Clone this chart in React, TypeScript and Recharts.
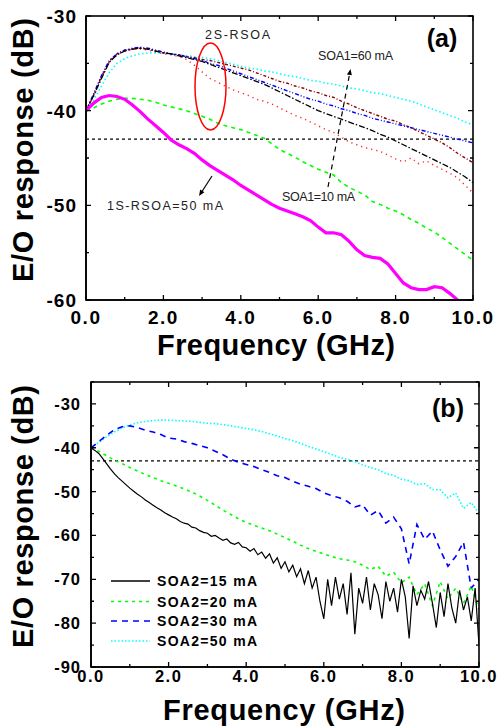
import { LineChart, Line, XAxis, YAxis, ReferenceLine } from 'recharts'

// frequency grids (GHz)
const freqA = Array.from({ length: 51 }, (_, i) => Math.round(i * 2) / 10)
const freqB = Array.from({ length: 51 }, (_, i) => Math.round(i * 2) / 10)
const freqFine = Array.from({ length: 101 }, (_, i) => i / 10)

const xTicks = [0, 1, 2, 3, 4, 5, 6, 7, 8, 9, 10]
const yTicksA = [-60, -55, -50, -45, -40, -35, -30]
const yTicksB = [-90, -85, -80, -75, -70, -65, -60, -55, -50, -45, -40, -35, -30, -25]

// panel (a): 1S-RSOA and 2S-RSOA responses (dB)
const magentaA = [
  -40, -39.2, -38.6, -38.4, -38.5, -38.8, -39.4, -40.1, -40.9, -41.6,
  -42.3, -43.1, -43.6, -44.0, -44.5, -45.2, -45.8, -46.3, -46.8, -47.3,
  -47.9, -48.4, -48.9, -49.4, -49.9, -50.3, -50.6, -50.9, -51.2, -51.6,
  -52.3, -52.9, -52.9, -53.1, -53.8, -54.7, -55.3, -55.5, -55.6, -56.2,
  -57.2, -58.2, -58.7, -58.9, -58.9, -58.6, -58.7, -59.3, -60.0,
]
const greenA = [
  -40, -39.7, -39.3, -39.0, -38.8, -38.7, -38.7, -38.8, -38.9, -39.1,
  -39.4, -39.6, -39.8, -40.0, -40.3, -40.6, -40.9, -41.3, -41.6, -41.8,
  -42.0, -42.3, -42.6, -42.9, -43.5, -44.1, -44.5, -44.9, -45.4, -45.8,
  -46.2, -46.5, -46.8, -47.6, -48.1, -48.5, -48.9, -49.6, -49.9, -50.3,
  -50.6, -51.0, -51.5, -51.9, -52.4, -52.8, -53.4, -54.0, -54.6, -55.2, -55.8,
]
const blackA = [
  -40, -38.4, -36.6, -34.9, -34.1, -33.7, -33.5, -33.4, -33.5, -33.7,
  -33.9, -34.0, -34.2, -34.4, -34.6, -34.8, -35.1, -35.4, -35.7, -36.0,
  -36.3, -36.6, -36.9, -37.2, -37.6, -38.0, -38.4, -38.8, -39.2, -39.6,
  -40.0, -40.3, -40.6, -40.9, -41.2, -41.5, -41.8, -42.1, -42.5, -42.8,
  -43.2, -43.6, -44.0, -44.4, -44.8, -45.2, -45.6, -46.0, -46.5, -47.0, -47.6,
]
const blueA = [
  -40, -38.2, -36.3, -34.7, -34.0, -33.6, -33.4, -33.3, -33.4, -33.6,
  -33.8, -34.0, -34.1, -34.3, -34.5, -34.7, -35.0, -35.2, -35.5, -35.8,
  -36.1, -36.4, -36.7, -37.0, -37.3, -37.6, -37.9, -38.2, -38.5, -38.8,
  -39.0, -39.3, -39.5, -39.8, -40.0, -40.3, -40.5, -40.8, -41.0, -41.2,
  -41.4, -41.6, -41.8, -42.0, -42.2, -42.4, -42.6, -42.8, -43.0, -43.2, -43.4,
]
const darkRedA = [
  -40, -38.3, -36.4, -34.8, -34.0, -33.6, -33.5, -33.4, -33.5, -33.7,
  -33.9, -34.0, -34.1, -34.3, -34.4, -34.6, -34.7, -34.9, -35.1, -35.3,
  -35.5, -35.7, -36.0, -36.3, -36.6, -36.9, -37.1, -37.4, -37.6, -37.9,
  -38.1, -38.4, -38.6, -39.0, -39.3, -39.7, -40.0, -40.3, -40.6, -40.9,
  -41.1, -41.5, -41.8, -42.2, -42.6, -43.0, -43.4, -43.9, -44.5, -45.0, -45.5,
]
const redA = [
  -40, -38.5, -36.5, -34.9, -34.1, -33.7, -33.5, -33.5, -33.6, -33.8,
  -34.0, -34.1, -34.3, -34.6, -35.2, -35.9, -36.6, -37.0, -37.4, -37.8,
  -38.1, -38.4, -38.8, -39.0, -39.3, -39.7, -40.1, -40.5, -40.8, -41.2,
  -41.6, -42.0, -42.3, -42.8, -43.3, -43.6, -43.9, -44.1, -44.3, -44.7,
  -45.1, -45.4, -45.0, -45.6, -45.3, -45.8, -46.2, -46.6, -47.1, -47.9, -48.7,
]
const cyanA = [
  -40, -38.9, -37.4, -36.0, -35.0, -34.5, -34.2, -34.0, -33.9, -33.9,
  -33.9, -34.0, -34.1, -34.2, -34.3, -34.4, -34.5, -34.7, -34.9, -35.1,
  -35.3, -35.5, -35.6, -35.8, -35.9, -36.1, -36.3, -36.4, -36.6, -36.8,
  -36.9, -37.1, -37.2, -37.4, -37.6, -37.7, -37.9, -38.1, -38.2, -38.4,
  -38.6, -38.8, -39.0, -39.3, -39.6, -39.9, -40.2, -40.5, -40.8, -41.2, -41.5,
]

// panel (b): SOA2 bias currents (dB)
const blackB = [
  -40, -40.6, -41.3, -42.4, -43.6, -44.8, -45.9, -46.8, -47.6, -48.4,
  -49.2, -49.9, -50.6, -51.2, -51.9, -52.5, -53.1, -53.7, -54.2, -54.8,
  -55.3, -55.8, -56.2, -56.8, -57.2, -57.4, -58.1, -58.3, -58.9, -59.3,
  -59.5, -60.2, -60.0, -60.6, -61.1, -60.8, -61.7, -62.0, -61.6, -62.6,
  -62.8, -63.6, -63.0, -64.4, -63.8, -65.2, -64.2, -66.3, -65.1, -67.5,
  -66.0, -68.3, -66.8, -69.4, -67.6, -71.0, -68.0, -72.0, -69.5, -75.0,
  -79.0, -70.0, -76.0, -69.5, -74.5, -71.0, -78.0, -68.5, -82.5, -72.0,
  -75.5, -69.5, -77.0, -71.0, -73.5, -79.0, -70.5, -75.0, -72.0, -77.5,
  -70.0, -74.0, -83.5, -71.5, -76.0, -72.5, -74.5, -70.5, -75.5, -81.0,
  -73.0, -78.5, -71.0, -76.5, -80.0, -72.5, -77.0, -74.0, -79.5, -72.0,
  -85.0,
]
const greenB = [
  -40, -40.8, -41.8, -42.8, -43.6, -44.5, -45.3, -46.1, -46.8, -47.5,
  -48.1, -48.7, -49.4, -50.1, -51.0, -52.0, -53.1, -54.2, -55.2, -56.2,
  -57.0, -57.7, -58.3, -58.9, -59.7, -60.5, -61.3, -62.2, -63.0, -63.6,
  -64.2, -64.8, -65.3, -65.6, -66.0, -66.8, -67.8, -67.0, -69.3, -68.4,
  -70.8, -69.5, -73.5, -71.0, -76.0, -70.5, -74.5, -72.0, -75.5, -71.5, -77.0,
]
const blueB = [
  -40, -38.6, -37.2, -35.9, -35.2, -35.0, -35.4, -36.0, -36.4, -37.0,
  -37.8, -38.0, -38.6, -39.0, -39.5, -40.0, -40.8, -41.6, -42.6, -43.3,
  -43.8, -44.3, -45.0, -45.6, -46.4, -46.8, -47.6, -48.3, -48.8, -49.3,
  -50.3, -50.9, -51.4, -52.2, -53.5, -53.0, -55.4, -54.3, -57.2, -55.8,
  -58.5, -66.5, -57.5, -60.9, -59.0, -63.3, -67.0, -64.8, -61.5, -72.0, -70.0,
]
const cyanB = [
  -40, -38.8, -37.5, -36.4, -35.5, -34.8, -34.3, -34.0, -33.8, -33.7,
  -33.7, -33.8, -33.9, -34.0, -34.2, -34.4, -34.5, -34.7, -35.0, -35.3,
  -35.6, -35.9, -36.3, -36.8, -37.3, -37.9, -38.4, -39.0, -39.7, -40.3,
  -40.9, -41.5, -42.2, -42.6, -43.2, -43.9, -44.5, -45.0, -45.9, -46.3,
  -47.2, -47.5, -48.4, -48.2, -49.5, -49.6, -51.4, -50.3, -53.8, -52.5, -55.0,
]

const legendB = ['SOA2=15 mA', 'SOA2=20 mA', 'SOA2=30 mA', 'SOA2=50 mA']

const FONT = 'Liberation Sans, Arial, sans-serif'

const pts = (xs: number[], ys: number[]) => ys.map((v, i) => ({ f: xs[i], v }))

const seriesA = [
  { key: 'cyan', data: pts(freqA, cyanA), color: '#00ffff', dash: '1.5 2.5', w: 1.6 },
  { key: 'darkred', data: pts(freqA, darkRedA), color: '#8b0000', dash: '3 2 1 2', w: 1.4 },
  { key: 'red', data: pts(freqA, redA), color: '#ff2020', dash: '1.2 4', w: 1.4 },
  { key: 'blue', data: pts(freqA, blueA), color: '#0000ff', dash: '4 2 1 2 1 2', w: 1.4 },
  { key: 'black', data: pts(freqA, blackA), color: '#000000', dash: '6 2 1.5 2', w: 1.3 },
  { key: 'green', data: pts(freqA, greenA), color: '#00ff00', dash: '4 4', w: 1.6 },
  { key: 'magenta', data: pts(freqA, magentaA), color: '#ff00ff', dash: undefined, w: 3.2 },
]

const seriesB = [
  { key: 'cyan', data: pts(freqB, cyanB), color: '#00ffff', dash: '1.5 2', w: 1.6 },
  { key: 'blue', data: pts(freqB, blueB), color: '#0000ff', dash: '6 5', w: 1.6 },
  { key: 'green', data: pts(freqB, greenB), color: '#00ff00', dash: '3 4', w: 1.6 },
  { key: 'black', data: pts(freqFine, blackB), color: '#000000', dash: undefined, w: 1.2 },
]

const legendStyle = [
  { color: '#000000', dash: undefined },
  { color: '#00ff00', dash: '3 4' },
  { color: '#0000ff', dash: '6 5' },
  { color: '#00ffff', dash: '1.5 2' },
]

type Box = { left: number; top: number; w: number; h: number }

// plot boxes on the page (left/top of the plotting area, its width and height)
const boxA: Box = { left: 86, top: 16, w: 387, h: 284 }
const boxB: Box = { left: 91, top: 382, w: 388, h: 285 }

// bottom ticks: inward marks on bottom and top edge, labels below
const bottomTick = (fs: number, off: number, h: number) => (p: any) => {
  const v = p.payload.value
  const len = v % 2 === 0 ? 5 : 3
  const top = p.y - h
  return (
    <g>
      <path d={`M${p.x},${p.y}V${p.y - len}M${p.x},${top}V${top + len}`} stroke='#000' strokeWidth={1.3} fill='none' />
      {v % 2 === 0 && (
        <text x={p.x} y={p.y + off} textAnchor='middle' fontSize={fs} fontWeight='bold' fontFamily={FONT} fill='#000' letterSpacing={1.5}>
          {v.toFixed(1)}
        </text>
      )}
    </g>
  )
}
// left ticks: inward marks on left and right edge, labels at left
const leftTick = (fs: number, gap: number, w: number) => (p: any) => {
  const v = p.payload.value
  const major = v % 10 === 0
  const len = major ? 5 : 3
  const right = p.x + w
  return (
    <g>
      <path d={`M${p.x},${p.y}H${p.x + len}M${right},${p.y}H${right - len}`} stroke='#000' strokeWidth={1.3} fill='none' />
      {major && (
        <text x={p.x - gap} y={p.y} dy='0.36em' textAnchor='end' fontSize={fs} fontWeight='bold' fontFamily={FONT} fill='#000' letterSpacing={1}>
          {v}
        </text>
      )}
    </g>
  )
}

function Panel(props: {
  box: Box
  offsetTop: number
  yDomain: [number, number]
  yTicks: number[]
  series: typeof seriesA
  fs: number
  xOff: number
  yGap: number
}) {
  const { box, offsetTop, yDomain, yTicks, series, fs, xOff, yGap } = props
  const margin = {
    left: box.left - 1,
    top: box.top - offsetTop,
    right: 499 - box.left - box.w,
    bottom: 363 - (box.top - offsetTop) - box.h - 1,
  }
  const axisStroke = { stroke: '#000', strokeWidth: 1.6 }
  return (
    <LineChart width={499} height={363} margin={margin}>
      <XAxis dataKey='f' type='number' domain={[0, 10]} ticks={xTicks} allowDataOverflow height={1}
        tickSize={0} tickMargin={0} axisLine={axisStroke} tickLine={false} tick={bottomTick(fs, xOff, box.h)} interval={0} />
      <YAxis type='number' domain={yDomain} ticks={yTicks} allowDataOverflow width={1}
        tickSize={0} tickMargin={0} axisLine={axisStroke} tickLine={false} tick={leftTick(fs, yGap, box.w)} interval={0} />
      <ReferenceLine y={-43} stroke='#000' strokeWidth={1.2} strokeDasharray='3 3' />
      {series.map((s) => (
        <Line key={s.key} data={s.data} dataKey='v' type='linear' stroke={s.color}
          strokeWidth={s.w} strokeDasharray={s.dash} dot={false} activeDot={false} isAnimationActive={false} />
      ))}
    </LineChart>
  )
}

const arrowHead = (tipX: number, tipY: number, fromX: number, fromY: number) => {
  const dx = tipX - fromX
  const dy = tipY - fromY
  const len = Math.hypot(dx, dy)
  const ux = dx / len
  const uy = dy / len
  const bx = tipX - ux * 6
  const by = tipY - uy * 6
  return `${tipX},${tipY} ${bx - uy * 2.5},${by + ux * 2.5} ${bx + uy * 2.5},${by - ux * 2.5}`
}

export default function App() {
  const title = { fontFamily: FONT, fontWeight: 'bold' as const, fill: '#000' }
  const note = { fontFamily: FONT, fontSize: 12.5, fill: '#222' }
  return (
    <div style={{ position: 'absolute', left: 0, top: 0, width: 499, height: 726, background: '#fff' }}>
      <div style={{ position: 'absolute', left: 0, top: 0 }}>
        <Panel box={boxA} offsetTop={0} yDomain={[-60, -30]} yTicks={yTicksA}
          series={seriesA} fs={19} xOff={24} yGap={9} />
      </div>
      <div style={{ position: 'absolute', left: 0, top: 363 }}>
        <Panel box={boxB} offsetTop={363} yDomain={[-90, -25]} yTicks={yTicksB}
          series={seriesB} fs={16.5} xOff={15} yGap={10} />
      </div>
      <svg width={499} height={726} style={{ position: 'absolute', left: 0, top: 0, pointerEvents: 'none' }}>
        {/* plot frames */}
        <rect x={boxA.left} y={boxA.top} width={boxA.w} height={boxA.h} fill='none' stroke='#000' strokeWidth={1.6} />
        <rect x={boxB.left} y={boxB.top} width={boxB.w} height={boxB.h} fill='none' stroke='#000' strokeWidth={1.6} />
        {/* panel (a) */}
        <text transform='translate(33,150) rotate(-90)' textAnchor='middle' fontSize={29} textLength={264} {...title}>
          E/O response (dB)
        </text>
        <text x={276} y={355} textAnchor='middle' fontSize={29} textLength={238} {...title}>Frequency (GHz)</text>
        <text x={442} y={47} textAnchor='middle' fontSize={25} {...title}>(a)</text>
        <text x={237.5} y={39} textAnchor='middle' textLength={65} {...note}>2S-RSOA</text>
        <ellipse cx={210.5} cy={86.5} rx={15.5} ry={43.5} fill='none' stroke='#ff0000' strokeWidth={1.5} />
        <text x={355.5} y={59.5} textAnchor='middle' textLength={75} {...note}>SOA1=60 mA</text>
        <text x={318.5} y={201} textAnchor='middle' textLength={73} {...note}>SOA1=10 mA</text>
        <line x1={328} y1={187} x2={349.4} y2={75} stroke='#000' strokeWidth={1.2} strokeDasharray='5 4' />
        <polygon points={arrowHead(350.5, 69, 328, 187)} fill='#000' />
        <text x={165} y={209.5} textAnchor='middle' textLength={116} {...note}>1S-RSOA=50 mA</text>
        <line x1={212} y1={176} x2={201} y2={193} stroke='#000' strokeWidth={1.2} />
        <polygon points={arrowHead(199, 196, 212, 176)} fill='#000' />
        {/* panel (b) */}
        <text transform='translate(33,516.5) rotate(-90)' textAnchor='middle' fontSize={29} textLength={263} {...title}>
          E/O response (dB)
        </text>
        <text x={284} y={720} textAnchor='middle' fontSize={29} textLength={242} {...title}>Frequency (GHz)</text>
        <text x={448} y={417} textAnchor='middle' fontSize={25} {...title}>(b)</text>
        {legendB.map((label, i) => {
          const y = [581, 601.5, 621, 641][i]
          return (
            <g key={label}>
              <line x1={111} x2={150} y1={y} y2={y} stroke={legendStyle[i].color} strokeWidth={1.5}
                strokeDasharray={legendStyle[i].dash} />
              <text x={157} y={y + 5} fontSize={14} textLength={100} {...title}>{label}</text>
            </g>
          )
        })}
      </svg>
    </div>
  )
}
